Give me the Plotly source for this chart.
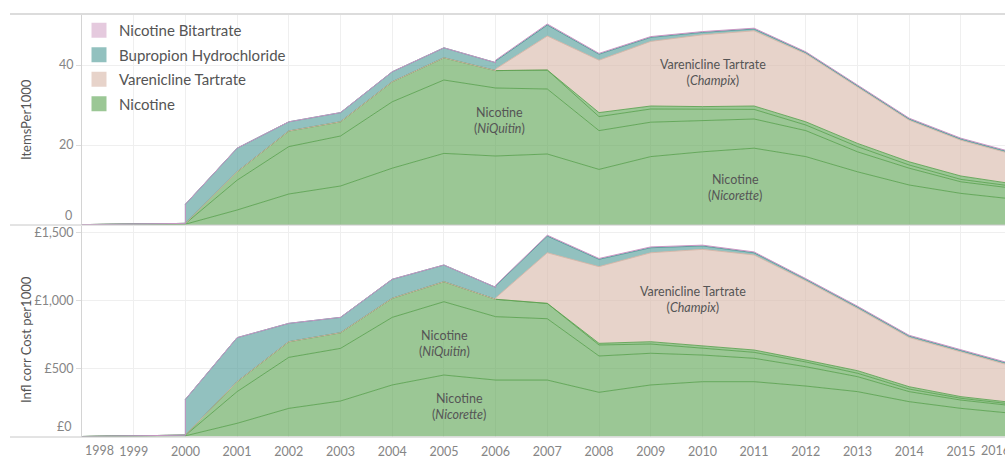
import plotly.graph_objects as go

# ---------------- data ----------------
years = list(range(1998, 2017))
year_labels = [str(y) for y in years]

# Items per 1000 population (top pane)
nicorette_items = [0.05, 0.15, 0.2, 3.75, 7.75, 9.75, 14.2, 17.9, 17.25, 17.75, 13.9, 17.1, 18.3, 19.2, 17.1, 13.3, 10.0, 7.9, 6.5]
niquitin_items = [0.03, 0.1, 0.15, 7.45, 11.85, 12.5, 16.6, 18.35, 17.0, 16.25, 9.7, 8.6, 7.8, 7.3, 6.5, 5.0, 4.2, 2.9, 2.7]
nic_other_items = [0.02, 0.05, 0.05, 2.1, 3.9, 3.55, 5.0, 5.55, 4.35, 4.75, 3.5, 3.3, 2.8, 2.4, 1.4, 1.3, 0.8, 0.6, 0.5]
nic_generic_items = [0, 0, 0, 0, 0, 0, 0, 0, 0, 0, 1.0, 0.75, 0.7, 0.85, 0.8, 0.8, 0.8, 0.85, 0.6]
varenicline_items = [None] * 8 + [0.4, 8.5, 13.1, 16.15, 17.95, 18.8, 17.0, 14.1, 10.4, 8.95, 7.4]
bupropion_items = [None, None, 4.8, 5.9, 2.3, 2.3, 2.5, 2.5, 2.0, 2.75, 1.5, 1.0, 0.6, 0.45, 0.3, 0.3, 0.3, 0.3, 0.3]
bitartrate_items = [None] * 8 + [0.2, 0.25, 0.2, 0.2, 0.2, 0.2, 0.2, 0.2, 0.2, 0.2, 0.2]

# Inflation-corrected cost per 1000 population (bottom pane, GBP)
nicorette_cost = [0, 3, 5, 97, 207, 261, 379, 452, 415, 415, 325, 379, 403, 403, 371, 330, 256, 207, 170]
niquitin_cost = [0, 2, 3, 233, 375, 387, 497, 539, 466, 451, 267, 233, 196, 172, 142, 110, 74, 61, 56]
nic_other_cost = [0, 1, 2, 73, 115, 115, 140, 147, 128, 113, 81, 68, 52, 44, 35, 25, 19, 13, 12]
nic_generic_cost = [0] * 10 + [12, 17, 14, 17, 14, 19, 17, 12, 12]
varenicline_cost = [None] * 8 + [10, 372, 564, 654, 711, 699, 583, 458, 362, 329, 267]
bupropion_cost = [None, None, 263, 324, 135, 113, 140, 123, 88, 123, 54, 37, 25, 16, 10, 10, 10, 10, 10]
bitartrate_cost = [None] * 8 + [5, 6, 6, 6, 6, 6, 6, 6, 6, 6, 6]

legend_names = ["Nicotine Bitartrate", "Bupropion Hydrochloride", "Varenicline Tartrate", "Nicotine"]

# ---------------- styles ----------------
GREEN_F = "rgba(89,161,79,0.6)"
GREEN_L = "rgba(89,161,79,0.85)"
TEAL_F = "rgba(73,152,148,0.6)"
TEAL_L = "rgba(73,152,148,0.9)"
VAR_F = "rgba(215,181,166,0.6)"
VAR_L = "rgba(215,181,166,0.9)"
BIT_F = "rgba(212,166,200,0.6)"
BIT_L = "rgba(200,150,195,1)"
FONT = "Lato"

W, H = 1005, 459
X0 = 82          # pixel of 1998
PX_YEAR = 51.7   # pixels per year
TOP_T, TOP_B = 14, 225
BOT_T, BOT_B = 226, 436.5
ITEMS_PX = 4.0
COST_PX = 0.136

def py(p):
    return 1 - p / H

def px(p):
    return p / W

x_end = 1998 + (W - X0) / PX_YEAR
top_range = [0, (TOP_B - TOP_T) / ITEMS_PX]
bot_range = [0, (BOT_B - BOT_T) / COST_PX]


def build_stack(series_list):
    xs, rows = [], []
    for i, yr in enumerate(years):
        vals = [s[i] for s in series_list]
        starts = [v is not None and i > 0 and s[i - 1] is None for s, v in zip(series_list, vals)]
        if any(starts):
            xs.append(yr)
            rows.append([0 if (v is None or st) else v for v, st in zip(vals, starts)])
        xs.append(yr)
        rows.append([0 if v is None else v for v in vals])
    cums = []
    for k in range(len(series_list)):
        cums.append([sum(r[:k + 1]) for r in rows])
    return xs, cums


fig = go.Figure()

layers = [
    ("Nicotine (Nicorette)", GREEN_F, GREEN_L),
    ("Nicotine (NiQuitin)", GREEN_F, GREEN_L),
    ("Nicotine (Other)", GREEN_F, GREEN_L),
    ("Nicotine (Generic)", GREEN_F, GREEN_L),
    ("Varenicline Tartrate", VAR_F, VAR_L),
    ("Bupropion Hydrochloride", TEAL_F, TEAL_L),
    ("Nicotine Bitartrate", BIT_F, BIT_L),
]

for series, xa, ya in [
    ([nicorette_items, niquitin_items, nic_other_items, nic_generic_items, varenicline_items, bupropion_items, bitartrate_items], "x", "y"),
    ([nicorette_cost, niquitin_cost, nic_other_cost, nic_generic_cost, varenicline_cost, bupropion_cost, bitartrate_cost], "x2", "y2"),
]:
    xs, cums = build_stack(series)
    for k, (name, fc, lc) in enumerate(layers):
        fig.add_trace(go.Scatter(
            x=xs, y=cums[k], mode="lines", name=name,
            fill="tozeroy" if k == 0 else "tonexty",
            fillcolor=fc, line=dict(color=lc, width=1),
            xaxis=xa, yaxis=ya, showlegend=False, hoverinfo="skip",
        ))

# legend entries (square swatches)
legend_colors = [BIT_F, TEAL_F, VAR_F, GREEN_F]
for i, (nm, c) in enumerate(zip(legend_names, legend_colors)):
    fig.add_trace(go.Scatter(
        x=[None], y=[None], mode="markers", name=nm, legendgroup=f"g{i}",
        marker=dict(symbol="square", size=15, color=c), xaxis="x", yaxis="y",
    ))

grid_c = "#efefef"
axis_font = dict(family=FONT, size=12.5, color="#858585")

fig.update_layout(
    width=W, height=H, margin=dict(l=0, r=0, t=0, b=0, autoexpand=False),
    paper_bgcolor="white", plot_bgcolor="white",
    showlegend=True,
    legend=dict(
        x=px(79), y=py(14), xanchor="left", yanchor="top",
        bgcolor="rgba(255,255,255,0)", borderwidth=0, traceorder="grouped", tracegroupgap=2,
        font=dict(family=FONT, size=15, color="#555555"), itemsizing="trace",
    ),
    xaxis=dict(domain=[px(X0), 1], range=[1998, x_end], anchor="y",
               tickvals=years, showticklabels=False, showgrid=True, gridcolor=grid_c,
               zeroline=False, showline=False),
    xaxis2=dict(domain=[px(X0), 1], range=[1998, x_end], anchor="y2", matches="x",
                tickvals=years[1:-1], ticktext=year_labels[1:-1], showticklabels=True,
                tickfont=axis_font, showgrid=True, gridcolor=grid_c, zeroline=False,
                showline=False, ticks="", ticklabelstandoff=6),
    yaxis=dict(domain=[py(TOP_B), py(TOP_T)], range=top_range, anchor="x",
               tickvals=[20, 40], ticktext=["20", "40"], tickfont=axis_font,
               showgrid=True, gridcolor=grid_c, zeroline=False,
               showline=True, linecolor="#d4d4d4", ticks="outside", ticklen=5, tickcolor="#dddddd"),
    yaxis2=dict(domain=[py(BOT_B), py(BOT_T)], range=bot_range, anchor="x2",
                tickvals=[500, 1000, 1500], ticktext=["£500", "£1,000", "£1,500"], tickfont=axis_font,
                showgrid=True, gridcolor=grid_c, zeroline=False,
                showline=True, linecolor="#d4d4d4", ticks="outside", ticklen=5, tickcolor="#dddddd"),
)

# frame lines
for ypix, col, w in [(TOP_T, "#dcdcdc", 2), (TOP_B, "#c8c8c8", 1), (BOT_B + 0.5, "#c8c8c8", 1)]:
    fig.add_shape(type="line", xref="paper", yref="paper", x0=px(10), x1=1, y0=py(ypix), y1=py(ypix),
                  line=dict(color=col, width=w), layer="above")

annots = []
# edge tick labels (kept inside pane like the original)
annots.append(dict(x=years[0], y=py(450), xref="x2", yref="paper", text=year_labels[0],
                   xanchor="left", yanchor="middle", showarrow=False, xshift=1, font=axis_font))
annots.append(dict(x=x_end, y=py(450), xref="x2", yref="paper", text=year_labels[-1],
                   xanchor="left", yanchor="middle", showarrow=False, xshift=-26, font=axis_font))
annots.append(dict(x=px(74), y=2.3, xref="paper", yref="y", text="0", xanchor="right",
                   yanchor="middle", showarrow=False, font=axis_font))
annots.append(dict(x=px(74), y=70, xref="paper", yref="y2", text="£0", xanchor="right",
                   yanchor="middle", showarrow=False, font=axis_font))

# axis titles
title_font = dict(family=FONT, size=13, color="#555555")
annots.append(dict(x=px(26), y=py(120), xref="paper", yref="paper", text="ItemsPer1000",
                   xanchor="center", yanchor="middle", textangle=-90, showarrow=False, font=title_font))
annots.append(dict(x=px(26), y=py(340), xref="paper", yref="paper", text="Infl corr Cost per1000",
                   xanchor="center", yanchor="middle", textangle=-90, showarrow=False, font=title_font))

# in-chart labels
lab_font = dict(family=FONT, size=12.5, color="#555555")
labels = [
    (2006.08, 26.1, "x", "y", "Nicotine<br>(<i>NiQuitin</i>)"),
    (2010.2, 38.1, "x", "y", "Varenicline Tartrate<br>(<i>Champix</i>)"),
    (2010.63, 9.25, "x", "y", "Nicotine<br>(<i>Nicorette</i>)"),
    (2005.02, 684, "x2", "y2", "Nicotine<br>(<i>NiQuitin</i>)"),
    (2005.29, 217, "x2", "y2", "Nicotine<br>(<i>Nicorette</i>)"),
    (2009.81, 1004, "x2", "y2", "Varenicline Tartrate<br>(<i>Champix</i>)"),
]
for x, y, xr, yr, t in labels:
    annots.append(dict(x=x, y=y, xref=xr, yref=yr, text=t, showarrow=False, font=lab_font,
                       align="center", xanchor="center", yanchor="middle"))

fig.update_layout(annotations=annots)
fig.write_html("out.html", config={"displayModeBar": False},
               post_script="document.body.style.margin='0px';")
